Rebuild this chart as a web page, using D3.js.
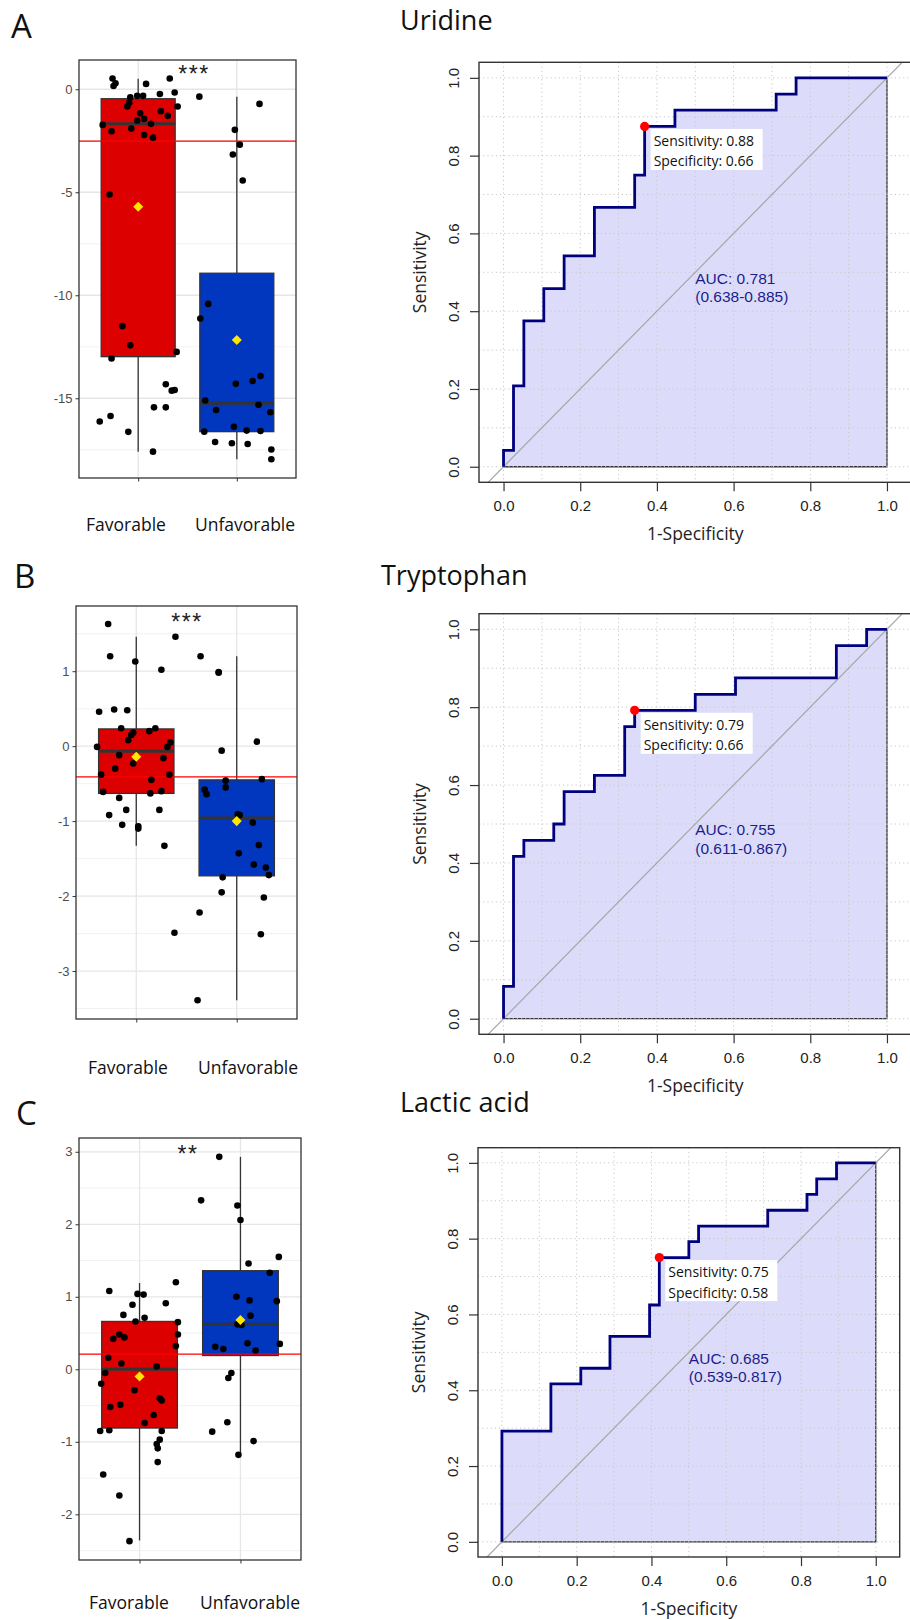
<!DOCTYPE html>
<html>
<head>
<meta charset="utf-8">
<script src="https://cdn.jsdelivr.net/npm/d3@7"></script>
<style>
  body { margin: 0; background: #fff; }
  svg { display: block; }
</style>
</head>
<body>
<svg width="910" height="1620"></svg>
<script>
// ---------- data ----------
const groups = ["Favorable", "Unfavorable"];

// jitter (in category units), value
const uridineFav = [[-0.26,0.52],[-0.23,0.29],[-0.25,0.16],[0.08,0.26],[0.32,0.52],[0.37,-0.16],[0.22,-0.23],[-0.01,-0.32],[0.05,-0.32],[-0.08,-0.39],[0.40,-0.84],[-0.11,-0.84],[-0.09,-0.65],[0.02,-1.17],[0.23,-1.07],[0.30,-1.29],[-0.01,-1.52],[0.06,-1.44],[0.13,-1.68],[-0.36,-1.73],[-0.07,-1.91],[-0.27,-2.04],[0.06,-2.22],[0.15,-2.35],[-0.29,-5.11],[-0.16,-11.50],[-0.08,-12.43],[0.39,-12.75],[-0.27,-13.07],[0.28,-14.32],[0.34,-14.63],[0.37,-14.60],[0.16,-15.44],[0.28,-15.44],[-0.28,-15.86],[-0.39,-16.13],[-0.10,-16.63],[0.15,-17.59]];
const uridineUnfav = [[-0.38,-0.36],[0.23,-0.71],[-0.02,-1.97],[0.03,-2.69],[-0.04,-3.17],[0.06,-4.43],[-0.29,-10.42],[-0.37,-11.13],[-0.01,-14.30],[0.16,-14.16],[0.24,-13.92],[-0.32,-15.11],[-0.21,-15.57],[0.22,-15.32],[0.34,-15.68],[-0.33,-16.62],[-0.03,-16.38],[0.10,-16.57],[0.24,-16.59],[-0.22,-17.12],[-0.05,-17.18],[0.11,-17.22],[0.35,-17.49],[0.35,-17.96]];
const tryptophanFav = [[-0.28,1.63],[-0.26,1.2],[-0.01,1.13],[0.25,1.02],[0.39,1.46],[-0.37,0.46],[-0.22,0.49],[-0.09,0.48],[-0.15,0.24],[-0.03,0.18],[-0.05,0.15],[-0.08,0.08],[0.13,0.2],[0.19,0.24],[-0.39,-0.01],[0.34,0.05],[0.31,-0.01],[-0.17,-0.12],[-0.03,-0.23],[0.27,-0.16],[-0.21,-0.30],[-0.35,-0.38],[0.33,-0.38],[0.15,-0.45],[-0.33,-0.61],[0.14,-0.63],[0.25,-0.6],[-0.17,-0.69],[0.23,-0.85],[-0.10,-0.85],[-0.27,-0.92],[-0.14,-1.05],[0.02,-1.07],[0.02,-1.10],[0.28,-1.33],[0.38,-2.49]];
const tryptophanUnfav = [[-0.36,1.2],[-0.18,0.99],[-0.18,0.98],[0.20,0.06],[-0.15,-0.06],[0.25,-0.44],[-0.11,-0.46],[-0.11,-0.55],[-0.32,-0.58],[-0.30,-0.64],[0.01,-0.91],[0.03,-0.92],[0.16,-1.02],[0.22,-1.32],[0.02,-1.43],[0.17,-1.58],[0.29,-1.62],[0.32,-1.72],[-0.14,-1.75],[-0.15,-1.95],[0.27,-2.02],[-0.37,-2.22],[0.24,-2.51],[-0.39,-3.39]];
const lacticFav = [[-0.30,1.08],[-0.02,1.04],[0.04,1.03],[0.36,1.20],[0.26,0.91],[-0.07,0.89],[-0.16,0.75],[0.05,0.71],[-0.04,0.66],[0.38,0.65],[-0.20,0.48],[-0.26,0.42],[-0.15,0.44],[0.38,0.48],[0.36,0.32],[-0.31,0.16],[-0.18,0.08],[0.17,0.04],[-0.34,-0.05],[-0.38,-0.20],[-0.05,-0.29],[-0.29,-0.52],[-0.19,-0.49],[0.20,-0.40],[0.22,-0.43],[0.14,-0.63],[0.05,-0.74],[-0.39,-0.85],[-0.30,-0.84],[0.22,-0.85],[0.20,-0.97],[0.17,-1.03],[0.18,-1.09],[0.18,-1.28],[-0.36,-1.45],[-0.20,-1.74],[-0.10,-2.37]];
const lacticUnfav = [[-0.21,2.93],[-0.39,2.33],[-0.03,2.26],[0.0,2.06],[0.38,1.55],[0.08,1.46],[0.29,1.33],[-0.04,1.0],[0.09,0.95],[0.36,0.94],[0.10,0.74],[-0.03,0.62],[0.01,0.61],[-0.25,0.31],[-0.17,0.28],[0.07,0.36],[0.15,0.26],[0.39,0.35],[-0.09,-0.05],[-0.12,-0.12],[-0.13,-0.73],[-0.28,-0.86],[0.13,-0.99],[-0.02,-1.18]];

// box stats: lower whisker, q1, median, q3, upper whisker, mean
const uridineStats = [[-17.6,-12.98,-1.68,-0.46,0.51,-5.7],[-17.96,-16.62,-15.24,-8.93,-0.36,-12.17]];
const tryptophanStats = [[-1.33,-0.63,-0.067,0.23,1.46,-0.14],[-3.39,-1.73,-0.96,-0.45,1.2,-1.0]];
const lacticStats = [[-2.36,-0.81,0.0,0.66,1.19,-0.10],[-1.17,0.19,0.62,1.36,2.93,0.68]];
const cutoffs = [-2.52, -0.41, 0.21];
const stars = ["***", "***", "**"];

// ROC curves (1-specificity, sensitivity)
const uridineFpr = [0,0,0.026,0.026,0.053,0.053,0.105,0.105,0.158,0.158,0.237,0.237,0.342,0.342,0.368,0.368,0.447,0.447,0.711,0.711,0.763,0.763,1];
const uridineTpr = [0,0.042,0.042,0.208,0.208,0.375,0.375,0.458,0.458,0.542,0.542,0.667,0.667,0.75,0.75,0.875,0.875,0.917,0.917,0.958,0.958,1,1];
const tryptophanFpr = [0,0,0.026,0.026,0.053,0.053,0.131,0.131,0.158,0.158,0.237,0.237,0.316,0.316,0.342,0.342,0.5,0.5,0.605,0.605,0.868,0.868,0.947,0.947,1];
const tryptophanTpr = [0,0.083,0.083,0.417,0.417,0.458,0.458,0.5,0.5,0.583,0.583,0.625,0.625,0.75,0.75,0.792,0.792,0.833,0.833,0.875,0.875,0.958,0.958,1,1];
const lacticFpr = [0,0,0.131,0.131,0.211,0.211,0.289,0.289,0.395,0.395,0.421,0.421,0.5,0.5,0.526,0.526,0.711,0.711,0.816,0.816,0.842,0.842,0.895,0.895,1];
const lacticTpr = [0,0.292,0.292,0.417,0.417,0.458,0.458,0.542,0.542,0.625,0.625,0.75,0.75,0.792,0.792,0.833,0.833,0.875,0.875,0.917,0.917,0.958,0.958,1,1];
const bestPoints = [[0.368,0.875],[0.342,0.792],[0.421,0.75]];
const bestLabels = [["Sensitivity: 0.88","Specificity: 0.66"],["Sensitivity: 0.79","Specificity: 0.66"],["Sensitivity: 0.75","Specificity: 0.58"]];
const aucLabels = [["AUC: 0.781","(0.638-0.885)"],["AUC: 0.755","(0.611-0.867)"],["AUC: 0.685","(0.539-0.817)"]];
const titles = ["Uridine", "Tryptophan", "Lactic acid"];
const panelLetters = ["A", "B", "C"];
const rocTicks = [0, 0.2, 0.4, 0.6, 0.8, 1];

// ---------- drawing ----------
const svg = d3.select("svg");
const calibri = "'Open Sans', sans-serif";
const arial = "'Liberation Sans', Arial, sans-serif";
const boxColors = ["#dd0000", "#0037be"];

const drawBoxPanel = (p) => {
  const x = d3.scalePoint().domain(groups).range([p.left, p.right]).padding(0.6);
  const y = d3.scaleLinear().domain(p.domain).range([p.bottom, p.top]);
  const step = x.step();
  const g = svg.append("g");

  // grid lines
  g.selectAll(".minor").data(p.minor).enter().append("line")
    .attr("x1", p.left).attr("x2", p.right)
    .attr("y1", d => y(d)).attr("y2", d => y(d))
    .attr("stroke", "#ececec").attr("stroke-width", 0.7);
  g.selectAll(".major").data(p.ticks).enter().append("line")
    .attr("x1", p.left).attr("x2", p.right)
    .attr("y1", d => y(d)).attr("y2", d => y(d))
    .attr("stroke", "#e6e6e6").attr("stroke-width", 1.3);
  g.selectAll(".vgrid").data(groups).enter().append("line")
    .attr("x1", d => x(d)).attr("x2", d => x(d))
    .attr("y1", p.top).attr("y2", p.bottom)
    .attr("stroke", "#e6e6e6").attr("stroke-width", 1.3);

  // boxes + whiskers
  const bw = step * 0.75;
  groups.forEach((grp, i) => {
    const s = p.stats[i];
    const cx = x(grp);
    g.append("line").attr("x1", cx).attr("x2", cx).attr("y1", y(s[4])).attr("y2", y(s[3]))
      .attr("stroke", "#333").attr("stroke-width", 1.3);
    g.append("line").attr("x1", cx).attr("x2", cx).attr("y1", y(s[1])).attr("y2", y(s[0]))
      .attr("stroke", "#333").attr("stroke-width", 1.3);
    g.append("rect")
      .attr("x", cx - bw / 2).attr("width", bw)
      .attr("y", y(s[3])).attr("height", y(s[1]) - y(s[3]))
      .attr("fill", boxColors[i]).attr("stroke", "#333").attr("stroke-width", 1.3);
    g.append("line").attr("x1", cx - bw / 2).attr("x2", cx + bw / 2)
      .attr("y1", y(s[2])).attr("y2", y(s[2]))
      .attr("stroke", "#333").attr("stroke-width", 3);
  });

  // cutoff line
  g.append("line")
    .attr("x1", p.left).attr("x2", p.right)
    .attr("y1", y(p.cut)).attr("y2", y(p.cut))
    .attr("stroke", "#ff0000").attr("stroke-width", 1.3);

  // jittered points
  groups.forEach((grp, i) => {
    g.append("g").selectAll("circle").data(p.points[i]).enter().append("circle")
      .attr("cx", d => x(grp) + d[0] * step)
      .attr("cy", d => y(d[1]))
      .attr("r", 3.3)
      .attr("fill", "#000");
  });

  // mean diamonds
  g.selectAll(".mean").data(groups).enter().append("path")
    .attr("d", d3.symbol().type(d3.symbolDiamond2).size(64))
    .attr("transform", (d, i) => `translate(${x(d)},${y(p.stats[i][5])})`)
    .attr("fill", "#ffe600");

  // significance stars
  g.append("text")
    .attr("x", p.starX).attr("y", p.starY)
    .attr("text-anchor", "middle")
    .attr("font-family", arial).attr("font-size", 23)
    .attr("letter-spacing", 1.5)
    .attr("fill", "#222")
    .text(p.star);

  // panel border
  g.append("rect")
    .attr("x", p.left).attr("y", p.top)
    .attr("width", p.right - p.left).attr("height", p.bottom - p.top)
    .attr("fill", "none").attr("stroke", "#333").attr("stroke-width", 1.3);

  // axes
  const ay = g.append("g").attr("transform", `translate(${p.left},0)`)
    .call(d3.axisLeft(y).tickValues(p.ticks).tickSize(3.5).tickPadding(3).tickFormat(d => String(d)));
  const ax = g.append("g").attr("transform", `translate(0,${p.bottom})`)
    .call(d3.axisBottom(x).tickSize(3.5).tickFormat(""));
  [ay, ax].forEach(a => {
    a.select(".domain").remove();
    a.selectAll(".tick line").attr("stroke", "#333");
    a.selectAll("text").attr("fill", "#4d4d4d").attr("font-family", arial).attr("font-size", 13);
  });

  // category labels
  g.selectAll(".cat").data(groups).enter().append("text")
    .attr("x", (d, i) => p.labelX[i])
    .attr("y", p.labelY)
    .attr("text-anchor", "middle")
    .attr("font-family", calibri).attr("font-size", 17.5)
    .attr("fill", "#111")
    .text(d => d);
};

const drawRoc = (p) => {
  const x = d3.scaleLinear().domain([-0.064, 1.064]).range([p.left, p.right]);
  const y = d3.scaleLinear().domain([-0.04, 1.04]).range([p.bottom, p.top]);
  const g = svg.append("g");
  const clipId = "clip" + p.idx;
  g.append("clipPath").attr("id", clipId).append("rect")
    .attr("x", p.left).attr("y", p.top)
    .attr("width", p.right - p.left).attr("height", p.bottom - p.top);
  const inner = g.append("g").attr("clip-path", `url(#${clipId})`);

  const pts = p.fpr.map((f, i) => [f, p.tpr[i]]);
  const line = d3.line().x(d => x(d[0])).y(d => y(d[1]));

  // auc polygon
  inner.append("path")
    .datum(pts.concat([[1, 0], [0, 0]]))
    .attr("d", d => line(d) + "Z")
    .attr("fill", "#dcdcfa")
    .attr("stroke", "#333").attr("stroke-width", 1.3);

  // dotted grid
  const gv = d3.range(0, 1.01, 0.1);
  inner.selectAll(".gx").data(gv).enter().append("line")
    .attr("x1", d => x(d)).attr("x2", d => x(d))
    .attr("y1", p.top).attr("y2", p.bottom)
    .attr("stroke", "#c8c8c8").attr("stroke-width", 1).attr("stroke-dasharray", "1.2,3");
  inner.selectAll(".gy").data(gv).enter().append("line")
    .attr("x1", p.left).attr("x2", p.right)
    .attr("y1", d => y(d)).attr("y2", d => y(d))
    .attr("stroke", "#c8c8c8").attr("stroke-width", 1).attr("stroke-dasharray", "1.2,3");

  // diagonal
  inner.append("line")
    .attr("x1", x(-0.2)).attr("y1", y(-0.2))
    .attr("x2", x(1.2)).attr("y2", y(1.2))
    .attr("stroke", "#a6a6a6").attr("stroke-width", 1.2);

  // roc curve
  inner.append("path")
    .datum(pts)
    .attr("d", line)
    .attr("fill", "none")
    .attr("stroke", "#00007f").attr("stroke-width", 2.8)
    .attr("stroke-linejoin", "miter");

  // best threshold
  const bp = p.best;
  inner.append("circle")
    .attr("cx", x(bp[0])).attr("cy", y(bp[1])).attr("r", 4.6)
    .attr("fill", "#ff0000");
  const lx = x(bp[0]) + 6, ly = y(bp[1]) + 2.5;
  inner.append("rect")
    .attr("x", lx).attr("y", ly).attr("width", 112).attr("height", 41)
    .attr("fill", "#fff");
  inner.selectAll(".bl").data(p.bestLabel).enter().append("text")
    .attr("x", lx + 3).attr("y", (d, i) => ly + 17 + i * 20.5)
    .attr("font-family", calibri).attr("font-size", 14)
    .attr("fill", "#111")
    .text(d => d);

  // auc label
  inner.selectAll(".auc").data(p.auc).enter().append("text")
    .attr("x", x(0.5)).attr("y", (d, i) => y(0.485) + 5.5 + i * 18.5)
    .attr("font-family", arial).attr("font-size", 15.5)
    .attr("fill", "#1c1c8c")
    .text(d => d);

  // box
  g.append("rect")
    .attr("x", p.left).attr("y", p.top)
    .attr("width", p.right - p.left).attr("height", p.bottom - p.top)
    .attr("fill", "none").attr("stroke", "#333").attr("stroke-width", 1.4);

  // axes
  const ax = g.append("g").attr("transform", `translate(0,${p.bottom})`)
    .call(d3.axisBottom(x).tickValues(rocTicks).tickSize(9).tickPadding(9).tickFormat(d3.format(".1f")));
  const ay = g.append("g").attr("transform", `translate(${p.left},0)`)
    .call(d3.axisLeft(y).tickValues(rocTicks).tickSize(9).tickFormat(d3.format(".1f")));
  [ax, ay].forEach(a => {
    a.select(".domain").remove();
    a.selectAll(".tick line").attr("stroke", "#333").attr("stroke-width", 1.2);
    a.selectAll("text").attr("fill", "#222").attr("font-family", arial).attr("font-size", 15);
  });
  ay.selectAll("text")
    .attr("x", null).attr("dy", null)
    .attr("text-anchor", "middle")
    .attr("transform", "translate(-24,0) rotate(-90)")
    .attr("dominant-baseline", "middle");

  // axis titles
  g.append("text")
    .attr("transform", `translate(${p.left - 58},${(p.top + p.bottom) / 2}) rotate(-90)`)
    .attr("text-anchor", "middle").attr("dominant-baseline", "middle")
    .attr("font-family", calibri).attr("font-size", 17.5).attr("fill", "#222")
    .text("Sensitivity");
  g.append("text")
    .attr("x", x(0.5)).attr("y", p.bottom + 58)
    .attr("text-anchor", "middle")
    .attr("font-family", calibri).attr("font-size", 17.5).attr("fill", "#222")
    .text("1-Specificity");
};

// ---------- panels ----------
const boxPanels = [
  { left: 79, right: 296, top: 60, bottom: 478, domain: [-18.87, 1.42],
    ticks: [0, -5, -10, -15], minor: [-2.5, -7.5, -12.5, -17.5],
    points: [uridineFav, uridineUnfav], stats: uridineStats,
    starX: 194, starY: 82, labelX: [126, 245], labelY: 531 },
  { left: 76, right: 297, top: 606, bottom: 1019, domain: [-3.64, 1.87],
    ticks: [1, 0, -1, -2, -3], minor: [1.5, 0.5, -0.5, -1.5, -2.5, -3.5],
    points: [tryptophanFav, tryptophanUnfav], stats: tryptophanStats,
    starX: 187, starY: 630, labelX: [128, 248], labelY: 1074 },
  { left: 79, right: 301, top: 1138, bottom: 1560, domain: [-2.63, 3.19],
    ticks: [3, 2, 1, 0, -1, -2], minor: [2.5, 1.5, 0.5, -0.5, -1.5, -2.5],
    points: [lacticFav, lacticUnfav], stats: lacticStats,
    starX: 188, starY: 1162, labelX: [129, 250], labelY: 1609 }
];
boxPanels.forEach((p, i) => drawBoxPanel(Object.assign(p, { cut: cutoffs[i], star: stars[i] })));

const rocPanels = [
  { left: 479, right: 911.5, top: 62.3, bottom: 482.3, fpr: uridineFpr, tpr: uridineTpr },
  { left: 479, right: 911.5, top: 613.7, bottom: 1034.3, fpr: tryptophanFpr, tpr: tryptophanTpr },
  { left: 478, right: 899.7, top: 1147.7, bottom: 1557, fpr: lacticFpr, tpr: lacticTpr }
];
rocPanels.forEach((p, i) => drawRoc(Object.assign(p, {
  idx: i, best: bestPoints[i], bestLabel: bestLabels[i], auc: aucLabels[i]
})));

// titles and panel letters
const titleX = [400, 381, 400];
const titleY = [30, 585, 1112];
svg.selectAll(".title").data(titles).enter().append("text")
  .attr("x", (d, i) => titleX[i]).attr("y", (d, i) => titleY[i])
  .attr("font-family", calibri).attr("font-size", 27).attr("fill", "#111")
  .text(d => d);

const letterX = [11, 14, 16];
const letterY = [38, 588, 1125];
svg.selectAll(".letter").data(panelLetters).enter().append("text")
  .attr("x", (d, i) => letterX[i]).attr("y", (d, i) => letterY[i])
  .attr("font-family", calibri).attr("font-size", 33).attr("fill", "#111")
  .text(d => d);
</script>
</body>
</html>
